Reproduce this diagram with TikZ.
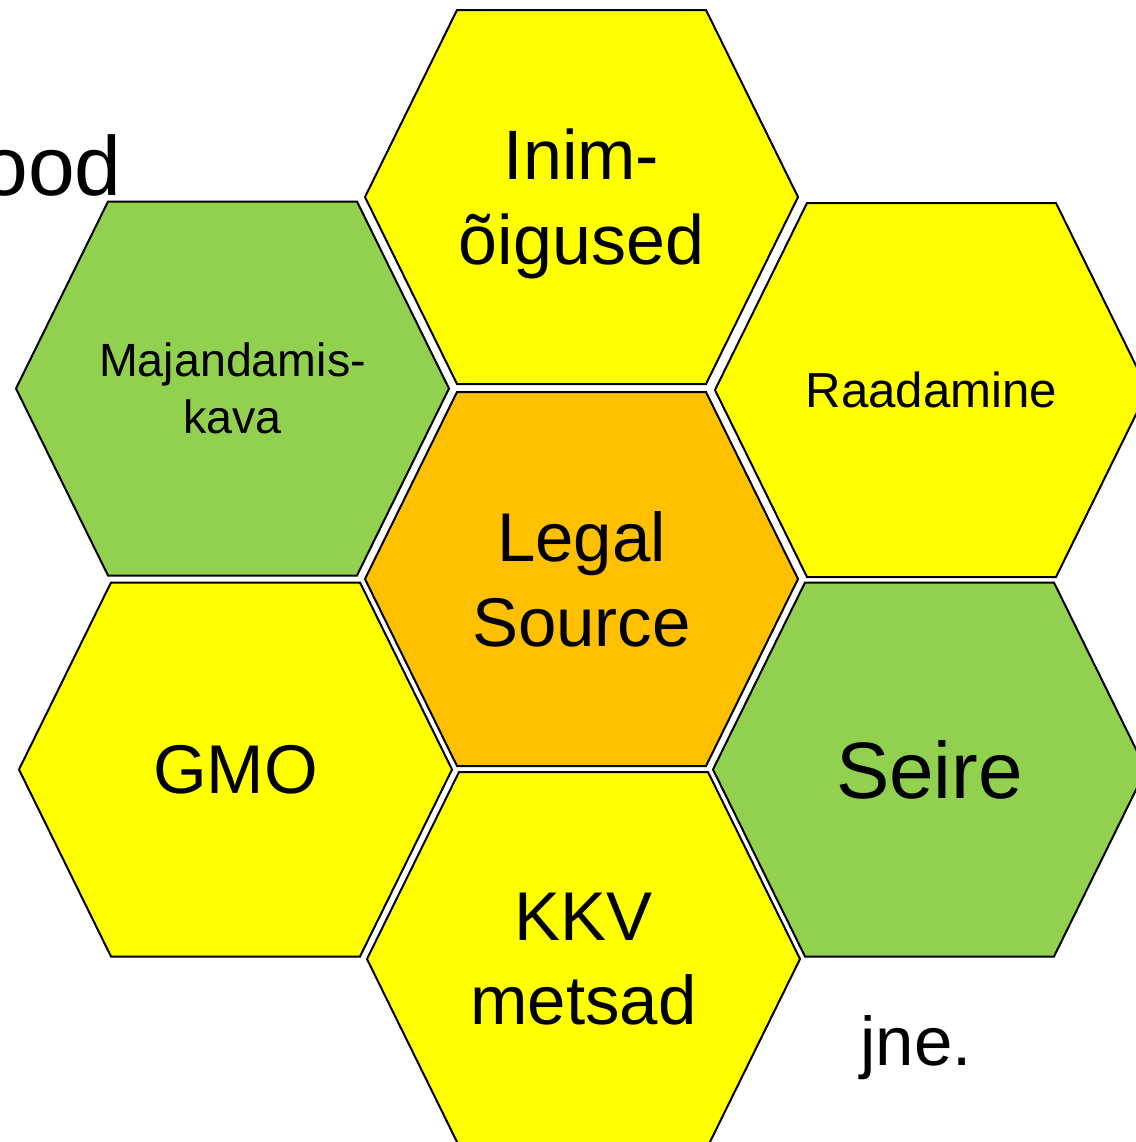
\documentclass[tikz,border=0pt]{standalone}
\usepackage{fontspec}
\setmainfont{Liberation Sans}
\definecolor{hexyellow}{HTML}{FFFF00}
\definecolor{hexgreen}{HTML}{92D050}
\definecolor{hexorange}{HTML}{FFC000}
\newcommand\hexagonat[2]{%
  \draw[hexborder,fill=#2]
    ([shift={(-216.5,0)}]#1) -- ([shift={(-124.5,-187)}]#1) --
    ([shift={(124.5,-187)}]#1) -- ([shift={(216.5,0)}]#1) --
    ([shift={(124.5,187)}]#1) -- ([shift={(-124.5,187)}]#1) -- cycle;}
\begin{document}
\begin{tikzpicture}[x=0.5pt,y=-0.5pt,
  hexlabel/.style={align=center,inner sep=0pt,text=black},
  hexborder/.style={draw=black,line width=1pt,line join=miter},
  bigtext/.style={font=\fontsize{34.5}{42.5}\selectfont}]
\useasboundingbox (0,0) rectangle (1136,1142);
\clip (0,0) rectangle (1136,1142);
\fill[white] (0,0) rectangle (1136,1142);

\coordinate (inimc) at (581.5,197);
\coordinate (majc) at (232.5,388.5);
\coordinate (raadc) at (931.5,390);
\coordinate (legalc) at (581.5,579);
\coordinate (gmoc) at (235.5,769.5);
\coordinate (seirec) at (929.5,769.5);
\coordinate (kkvc) at (583.5,959);

\hexagonat{inimc}{hexyellow}
\hexagonat{majc}{hexgreen}
\hexagonat{raadc}{hexyellow}
\hexagonat{legalc}{hexorange}
\hexagonat{gmoc}{hexyellow}
\hexagonat{seirec}{hexgreen}
\hexagonat{kkvc}{hexyellow}

\node[hexlabel,font=\fontsize{35}{42.5}\selectfont] (inim) at ([yshift=-3.5pt]inimc) {Inim-\\õigused};
\node[hexlabel,font=\fontsize{23.3}{28.5}\selectfont] (maj) at (majc) {Majandamis-\\kava};
\node[hexlabel,font=\fontsize{24.6}{29.5}\selectfont] (raad) at (raadc) {Raadamine};
\node[hexlabel,bigtext] (legal) at (legalc) {Legal\\Source};
\node[hexlabel,bigtext] (gmo) at (gmoc) {GMO};
\node[hexlabel,font=\fontsize{40}{48}\selectfont] (seire) at (seirec) {Seire};
\node[hexlabel,font=\fontsize{34.5}{42}\selectfont] (kkv) at (kkvc) {KKV\\metsad};

\node[inner sep=0pt,anchor=base west,bigtext] (jne) at (860,1065) {jne.};
\node[inner sep=0pt,anchor=base east,font=\fontsize{42}{50}\selectfont] (ood) at (122,195) {ood};
\end{tikzpicture}
\end{document}
